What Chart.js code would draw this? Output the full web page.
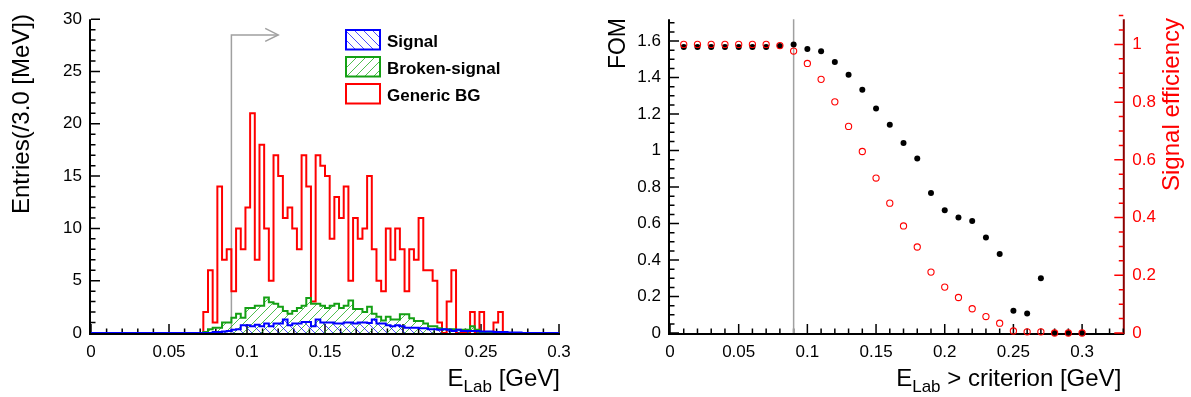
<!DOCTYPE html>
<html>
<head>
<meta charset="utf-8">
<script src="https://cdn.jsdelivr.net/npm/chart.js@4.4.1/dist/chart.umd.min.js"></script>
<style>
  html, body { margin: 0; padding: 0; background: #fff; }
  #wrap { position: relative; width: 1191px; height: 397px; overflow: hidden; background: #fff; }
  #left { position: absolute; left: 0; top: 0; }
  #right { position: absolute; left: 595px; top: 0; }
</style>
</head>
<body>
<div id="wrap">
  <canvas id="left" width="595" height="397"></canvas>
  <canvas id="right" width="596" height="397"></canvas>
</div>
<script>
const FONT = '"Liberation Sans", Arial, Helvetica, sans-serif';
const RED = '#ff0000', GREEN = '#14a014', BLUE = '#0000ff', GRAY = '#a0a0a0';
const GREEN_HATCH = 'rgba(20,170,20,0.75)', BLUE_HATCH = 'rgba(0,0,255,0.7)';

// ---- E_Lab spectrum: 100 bins of 3 MeV between 0 and 0.3 GeV ----
const BIN_LOW = 0.0;
const BIN_WIDTH = 0.003;

const GENERIC_BG = [
  0, 0, 0, 0, 0, 0, 0, 0, 0, 0,
  0, 0, 0, 0, 0, 0, 0, 0, 0, 0,
  0, 0, 0, 0, 2, 6, 1, 14, 7, 8,
  4, 10, 8, 12, 21, 7, 18, 10, 5, 17,
  15, 11, 12, 10, 8, 17, 14, 3, 17, 16,
  15, 9, 13, 11, 14, 5, 11, 9, 10, 15,
  8, 5, 4, 10, 7, 10, 8, 4, 8, 7,
  11, 6, 6, 5, 1, 0, 3, 6, 0, 0,
  0, 2, 0, 2, 0, 0, 1, 2, 0, 0,
  0, 0, 0, 0, 0, 0, 0, 0, 0, 0
];

const BROKEN_SIGNAL = [
  0, 0, 0, 0, 0, 0, 0, 0, 0, 0,
  0, 0, 0, 0, 0, 0, 0, 0, 0, 0,
  0, 0, 0, 0, 0.1, 0.35, 0.5, 0.5, 1.0, 1.0,
  1.45, 1.85, 1.45, 2.4, 2.4, 2.6, 2.6, 3.4, 2.95, 2.8,
  2.5, 2.1, 1.85, 2.1, 2.4, 2.6, 3.35, 2.8, 2.8, 2.6,
  2.4, 2.6, 2.8, 2.4, 2.6, 3.1, 2.3, 2.3, 2.0, 2.5,
  1.85, 1.55, 1.2, 1.55, 1.3, 1.3, 1.8, 1.8, 1.4, 1.15,
  1.15, 0.9, 0.65, 0.65, 0.45, 0.35, 0.35, 0.35, 0.3, 0.3,
  0.3, 0.65, 0.3, 0.1, 0, 0, 0, 0, 0, 0,
  0, 0, 0, 0, 0, 0, 0, 0, 0, 0
];

const SIGNAL = [
  0, 0, 0, 0, 0, 0, 0, 0, 0, 0,
  0, 0, 0, 0, 0, 0, 0, 0, 0, 0,
  0, 0, 0, 0, 0, 0, 0.1, 0.1, 0.15, 0.2,
  0.3, 0.35, 0.75, 0.75, 0.65, 0.8, 0.65, 0.9, 0.65, 0.9,
  0.9, 1.3, 0.75, 0.9, 0.9, 1.05, 1.05, 0.65, 1.3, 1.0,
  1.0, 1.0, 0.9, 0.9, 1.0, 1.0, 0.9, 1.0, 1.0, 0.95,
  1.3, 0.9, 0.9, 0.75, 0.65, 0.75, 0.65, 0.5, 0.5, 0.5,
  0.45, 0.45, 0.35, 0.35, 0.3, 0.35, 0.3, 0.2, 0.3, 0.2,
  0.2, 0.2, 0.2, 0.15, 0.15, 0.15, 0.1, 0.1, 0.1, 0.05,
  0.05, 0.05, 0, 0, 0, 0, 0, 0, 0, 0
];

const LEFT_X_TICKS = [0, 0.05, 0.1, 0.15, 0.2, 0.25, 0.3];
const LEFT_Y_TICKS = [0, 5, 10, 15, 20, 25, 30];

// selection cut and the arrow that marks the accepted side
const CUT = 0.09;
const ARROW_LEVEL = 28.5;
const ARROW_END = 0.12;

// ---- figure of merit scan versus the E_Lab criterion ----
const CRITERION = [
  0.01, 0.02, 0.03, 0.04, 0.05, 0.06, 0.07, 0.08, 0.09, 0.10,
  0.11, 0.12, 0.13, 0.14, 0.15, 0.16, 0.17, 0.18, 0.19, 0.20,
  0.21, 0.22, 0.23, 0.24, 0.25, 0.26, 0.27, 0.28, 0.29, 0.30
];
const FOM = [
  1.567, 1.567, 1.567, 1.567, 1.567, 1.567, 1.567, 1.573, 1.582, 1.556,
  1.544, 1.486, 1.415, 1.333, 1.231, 1.142, 1.042, 0.956, 0.767, 0.673,
  0.633, 0.614, 0.524, 0.433, 0.122, 0.107, 0.300, 0, 0, 0
];
const EFFICIENCY = [
  1.0, 1.0, 1.0, 1.0, 1.0, 1.0, 1.0, 0.996, 0.977, 0.934,
  0.879, 0.801, 0.716, 0.629, 0.537, 0.450, 0.371, 0.298, 0.211, 0.159,
  0.123, 0.084, 0.057, 0.034, 0.007, 0.004, 0.004, 0, 0, 0
];
const RIGHT_X_TICKS = [0, 0.05, 0.1, 0.15, 0.2, 0.25, 0.3];
const FOM_TICKS = [0, 0.2, 0.4, 0.6, 0.8, 1, 1.2, 1.4, 1.6];
const EFF_TICKS = [0, 0.2, 0.4, 0.6, 0.8, 1];

Chart.defaults.font.family = FONT;

const fmt = v => String(Math.round(v * 1000) / 1000);

// histogram outline as step points at the left bin edges, closed at the last edge
function stepPoints(values) {
  const pts = values.map((v, i) => ({ x: BIN_LOW + i * BIN_WIDTH, y: v }));
  pts.push({ x: BIN_LOW + values.length * BIN_WIDTH, y: values[values.length - 1] });
  return pts;
}

// thin diagonal hatching, '/' when forward and '\' otherwise
function hatch(ctx, color, forward) {
  const s = 9;
  const c = document.createElement('canvas');
  c.width = s; c.height = s;
  const g = c.getContext('2d');
  g.fillStyle = color;
  for (let i = 0; i < s; i++) {
    const row = forward ? s - 1 - i : i;
    g.fillRect(i, row, 1, 1);
  }
  return ctx.createPattern(c, 'repeat');
}

// inward tick marks, long on the labelled values and short on the subdivisions
function tickMarks(ctx, scale, side, a, majors, minorStep, color) {
  const n = Math.round((scale.max - scale.min) / minorStep + 1e-6);
  ctx.save();
  ctx.strokeStyle = color;
  ctx.lineWidth = 1.5;
  ctx.beginPath();
  for (let i = 0; i <= n; i++) {
    const v = scale.min + i * minorStep;
    const major = majors.some(m => Math.abs(m - v) < minorStep * 0.01);
    const len = major ? 9 : 4.5;
    const p = scale.getPixelForValue(v);
    if (side === 'bottom') { ctx.moveTo(p, a.bottom); ctx.lineTo(p, a.bottom - len); }
    else if (side === 'left') { ctx.moveTo(a.left, p); ctx.lineTo(a.left + len, p); }
    else { ctx.moveTo(a.right, p); ctx.lineTo(a.right - len, p); }
  }
  ctx.stroke();
  ctx.restore();
}

function axisLines(ctx, a, rightColor) {
  ctx.save();
  ctx.lineWidth = 2;
  ctx.strokeStyle = '#000';
  ctx.beginPath();
  ctx.moveTo(a.left - 1, a.top);
  ctx.lineTo(a.left - 1, a.bottom + 2);
  ctx.moveTo(a.left - 2, a.bottom + 1);
  ctx.lineTo(a.right + 1, a.bottom + 1);
  ctx.stroke();
  if (rightColor) {
    ctx.strokeStyle = rightColor;
    ctx.beginPath();
    ctx.moveTo(a.right + 0.5, a.top);
    ctx.lineTo(a.right + 0.5, a.bottom + 1);
    ctx.stroke();
  }
  ctx.restore();
}

// text made of runs, each with its own size and baseline shift, right-aligned at x
function runText(ctx, runs, rightX, baseline, color) {
  ctx.save();
  ctx.fillStyle = color;
  ctx.textBaseline = 'alphabetic';
  ctx.textAlign = 'left';
  let w = 0;
  runs.forEach(r => { ctx.font = r.size + 'px ' + FONT; r.w = ctx.measureText(r.t).width; w += r.w; });
  let x = rightX - w;
  runs.forEach(r => { ctx.font = r.size + 'px ' + FONT; ctx.fillText(r.t, x, baseline + (r.dy || 0)); x += r.w; });
  ctx.restore();
}

function verticalTitle(ctx, text, size, baseX, topY, color) {
  ctx.save();
  ctx.translate(baseX, topY);
  ctx.rotate(-Math.PI / 2);
  ctx.font = size + 'px ' + FONT;
  ctx.fillStyle = color;
  ctx.textAlign = 'right';
  ctx.textBaseline = 'alphabetic';
  ctx.fillText(text, 0, 0);
  ctx.restore();
}

function tickFont() { return { family: FONT, size: 17 }; }

// ================= left panel: E_Lab histograms =================
const leftCanvas = document.getElementById('left');
const leftCtx = leftCanvas.getContext('2d');

const leftDecor = {
  id: 'leftDecor',
  beforeDatasetsDraw(chart) {
    const { ctx, chartArea: a, scales: { x, y } } = chart;
    axisLines(ctx, a, null);
    tickMarks(ctx, x, 'bottom', a, LEFT_X_TICKS, 0.01, '#000');
    tickMarks(ctx, y, 'left', a, LEFT_Y_TICKS, 1, '#000');
    const cx = x.getPixelForValue(CUT);
    const ty = y.getPixelForValue(ARROW_LEVEL);
    const ex = x.getPixelForValue(ARROW_END);
    ctx.save();
    ctx.strokeStyle = GRAY;
    ctx.lineWidth = 1.5;
    ctx.beginPath();
    ctx.moveTo(cx, a.bottom);
    ctx.lineTo(cx, ty);
    ctx.lineTo(ex, ty);
    ctx.stroke();
    ctx.beginPath();
    ctx.moveTo(ex - 13, ty - 6.5);
    ctx.lineTo(ex, ty);
    ctx.lineTo(ex - 13, ty + 6.5);
    ctx.stroke();
    ctx.restore();
  },
  afterDraw(chart) {
    const { ctx, chartArea: a } = chart;
    verticalTitle(ctx, 'Entries(/3.0 [MeV])', 24, 29, 14, '#000');
    runText(ctx, [{ t: 'E', size: 24 }, { t: 'Lab', size: 17, dy: 6 }, { t: ' [GeV]', size: 24 }], a.right + 1, 386, '#000');
    // legend
    chart.data.datasets.forEach((ds, i) => {
      const bx = 346, by = 30 + i * 27, bw = 34, bh = 19.5;
      ctx.save();
      if (ds.fill) { ctx.fillStyle = ds.backgroundColor; ctx.fillRect(bx, by, bw, bh); }
      ctx.strokeStyle = ds.borderColor;
      ctx.lineWidth = 2;
      ctx.strokeRect(bx, by, bw, bh);
      ctx.fillStyle = '#000';
      ctx.font = 'bold 17px ' + FONT;
      ctx.textBaseline = 'alphabetic';
      ctx.textAlign = 'left';
      ctx.fillText(ds.label, 387, by + 16.5);
      ctx.restore();
    });
  }
};

new Chart(leftCanvas, {
  type: 'line',
  data: {
    datasets: [
      { label: 'Signal', data: stepPoints(SIGNAL), borderColor: BLUE,
        backgroundColor: hatch(leftCtx, BLUE_HATCH, false), fill: 'origin' },
      { label: 'Broken-signal', data: stepPoints(BROKEN_SIGNAL), borderColor: GREEN,
        backgroundColor: hatch(leftCtx, GREEN_HATCH, true), fill: 'origin' },
      { label: 'Generic BG', data: stepPoints(GENERIC_BG), borderColor: RED,
        backgroundColor: 'rgba(0,0,0,0)', fill: false }
    ]
  },
  options: {
    responsive: false,
    animation: false,
    devicePixelRatio: 1,
    events: [],
    layout: { padding: { left: 0, right: 36, top: 14, bottom: 0 } },
    elements: {
      point: { radius: 0, hoverRadius: 0 },
      line: { borderWidth: 2, tension: 0, stepped: 'before', borderJoinStyle: 'miter' }
    },
    plugins: { legend: { display: false }, tooltip: { enabled: false } },
    scales: {
      x: {
        type: 'linear', min: 0, max: 0.3,
        grid: { display: false, drawTicks: false },
        border: { display: false },
        afterBuildTicks: s => { s.ticks = LEFT_X_TICKS.map(v => ({ value: v })); },
        afterFit: s => { s.height = 64; },
        ticks: { padding: 9, font: tickFont(), color: '#000', callback: fmt, maxRotation: 0, autoSkip: false }
      },
      y: {
        type: 'linear', min: 0, max: 30,
        grid: { display: false, drawTicks: false },
        border: { display: false },
        afterBuildTicks: s => { s.ticks = LEFT_Y_TICKS.map(v => ({ value: v })); },
        afterFit: s => { s.width = 91; },
        ticks: { padding: 9, font: tickFont(), color: '#000', callback: fmt, autoSkip: false }
      }
    }
  },
  plugins: [leftDecor]
});

// ================= right panel: FOM and signal efficiency =================
const rightCanvas = document.getElementById('right');

const rightDecor = {
  id: 'rightDecor',
  beforeDatasetsDraw(chart) {
    const { ctx, chartArea: a, scales: { x, y, y2 } } = chart;
    axisLines(ctx, a, '#8b0000');
    tickMarks(ctx, x, 'bottom', a, RIGHT_X_TICKS, 0.01, '#000');
    tickMarks(ctx, y, 'left', a, FOM_TICKS, 0.05, '#000');
    tickMarks(ctx, y2, 'right', a, EFF_TICKS, 0.05, RED);
    const cx = x.getPixelForValue(CUT);
    ctx.save();
    ctx.strokeStyle = GRAY;
    ctx.lineWidth = 1.5;
    ctx.beginPath();
    ctx.moveTo(cx, a.bottom);
    ctx.lineTo(cx, a.top);
    ctx.stroke();
    ctx.restore();
  },
  afterDraw(chart) {
    const { ctx, chartArea: a } = chart;
    verticalTitle(ctx, 'FOM', 23, 30, 18, '#000');
    verticalTitle(ctx, 'Signal efficiency', 24, 584, 18, RED);
    runText(ctx, [{ t: 'E', size: 24 }, { t: 'Lab', size: 17, dy: 6 }, { t: ' > criterion [GeV]', size: 24 }], a.right - 2, 386, '#000');
  }
};

new Chart(rightCanvas, {
  type: 'scatter',
  data: {
    datasets: [
      { label: 'Signal efficiency', yAxisID: 'y2',
        data: CRITERION.map((c, i) => ({ x: c, y: EFFICIENCY[i] })),
        pointStyle: 'circle', pointRadius: 3.1, borderWidth: 1.1,
        borderColor: RED, backgroundColor: 'rgba(0,0,0,0)', clip: false },
      { label: 'FOM', yAxisID: 'y',
        data: CRITERION.map((c, i) => ({ x: c, y: FOM[i] })),
        pointStyle: 'circle', pointRadius: 3, borderWidth: 0,
        borderColor: '#000', backgroundColor: '#000', clip: false }
    ]
  },
  options: {
    responsive: false,
    animation: false,
    devicePixelRatio: 1,
    events: [],
    layout: { padding: { left: 0, right: 0, top: 18, bottom: 0 } },
    elements: { point: { hoverRadius: 0 } },
    plugins: { legend: { display: false }, tooltip: { enabled: false } },
    scales: {
      x: {
        type: 'linear', min: 0, max: 0.33,
        grid: { display: false, drawTicks: false },
        border: { display: false },
        afterBuildTicks: s => { s.ticks = RIGHT_X_TICKS.map(v => ({ value: v })); },
        afterFit: s => { s.height = 64; },
        ticks: { padding: 9, font: tickFont(), color: '#000', callback: fmt, maxRotation: 0, autoSkip: false }
      },
      y: {
        type: 'linear', position: 'left', min: 0, max: 1.72,
        grid: { display: false, drawTicks: false },
        border: { display: false },
        afterBuildTicks: s => { s.ticks = FOM_TICKS.map(v => ({ value: v })); },
        afterFit: s => { s.width = 75; },
        ticks: { padding: 9, font: tickFont(), color: '#000', callback: fmt, autoSkip: false }
      },
      y2: {
        type: 'linear', position: 'right', min: 0, max: 1.0874,
        grid: { display: false, drawTicks: false },
        border: { display: false },
        afterBuildTicks: s => { s.ticks = EFF_TICKS.map(v => ({ value: v })); },
        afterFit: s => { s.width = 67.7; },
        ticks: { padding: 9, font: tickFont(), color: RED, callback: fmt, autoSkip: false }
      }
    }
  },
  plugins: [rightDecor]
});
</script>
</body>
</html>
